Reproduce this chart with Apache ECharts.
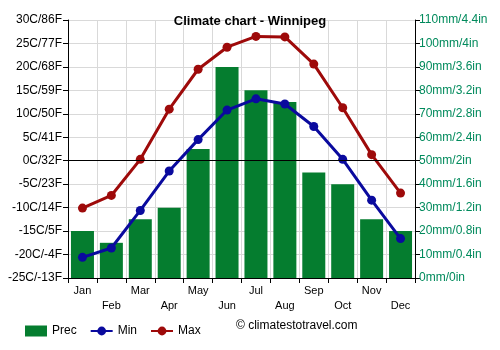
<!DOCTYPE html>
<html>
<head>
<meta charset="utf-8">
<script src="https://cdn.jsdelivr.net/npm/echarts@6/dist/echarts.min.js"></script>
<style>
html,body{margin:0;padding:0;background:#fff;}
#chart{width:500px;height:350px;}
</style>
</head>
<body>
<div id="chart"></div>
<script>
// data
var months = ['Jan','Feb','Mar','Apr','May','Jun','Jul','Aug','Sep','Oct','Nov','Dec'];
var prec = [20,15,25,30,55,90,80,75,45,40,25,20];
var tmin = [-20.6,-18.6,-10.6,-2.2,4.5,10.8,13.2,12.1,7.3,0.3,-8.4,-16.6];
var tmax = [-10.1,-7.4,0.3,11.0,19.5,24.2,26.5,26.4,20.6,11.3,1.3,-6.9];
var tempLabels = {'30':'30C/86F','25':'25C/77F','20':'20C/68F','15':'15C/59F','10':'10C/50F','5':'5C/41F','0':'0C/32F','-5':'-5C/23F','-10':'-10C/14F','-15':'-15C/5F','-20':'-20C/-4F','-25':'-25C/-13F'};
var precLabels = {'110':'110mm/4.4in','100':'100mm/4in','90':'90mm/3.6in','80':'80mm/3.2in','70':'70mm/2.8in','60':'60mm/2.4in','50':'50mm/2in','40':'40mm/1.6in','30':'30mm/1.2in','20':'20mm/0.8in','10':'10mm/0.4in','0':'0mm/0in'};

var chart = {
	init : function(){
		var myChart = echarts.init(document.getElementById('chart'));
		myChart.setOption(chart.options());
	},

	options : function(){
		var font = 'Arial, "Liberation Sans", sans-serif';
		return {
			animation : false,
			textStyle : { fontFamily : font },
			title : {
				text : 'Climate chart - Winnipeg',
				left : 'center',
				top : 10,
				textStyle : { fontSize : 13, fontWeight : 'bold', color : '#000', fontFamily : font }
			},
			legend : {
				left : 20,
				top : 320,
				itemWidth : 22,
				itemHeight : 11,
				itemGap : 13,
				textStyle : { fontSize : 12, color : '#000', fontFamily : font },
				data : [
					{ name : 'Prec', icon : 'rect' },
					{ name : 'Min', itemStyle : { borderWidth : 0 } },
					{ name : 'Max', itemStyle : { borderWidth : 0 } }
				]
			},
			graphic : [{
				type : 'text',
				left : 236,
				top : 320,
				style : { text : '© climatestotravel.com', fontSize : 12, fill : '#000', fontFamily : font }
			}],
			grid : { left : 68, right : 85, top : 20, bottom : 72 },
			xAxis : [{
				type : 'category',
				data : months,
				axisLine : { onZero : false, lineStyle : { color : '#000' } },
				axisTick : { show : true, alignWithLabel : false, lineStyle : { color : '#000' } },
				splitLine : { show : true, lineStyle : { color : '#d9d9d9' } },
				axisLabel : {
					color : '#000',
					fontSize : 11,
					interval : 0,
					margin : 5,
					lineHeight : 15,
					formatter : function(v, i){ return i % 2 ? '\n' + v : v; }
				}
			}],
			yAxis : [{
				type : 'value',
				min : -25,
				max : 30,
				interval : 5,
				position : 'left',
				axisLine : { show : true, lineStyle : { color : '#000' } },
				axisTick : { show : true, lineStyle : { color : '#000' } },
				splitLine : { show : true, lineStyle : { color : '#d9d9d9' } },
				axisLabel : {
					color : '#000',
					fontSize : 12,
					margin : 6,
					formatter : function(v){ return tempLabels[String(v)]; }
				}
			},{
				type : 'value',
				min : 0,
				max : 110,
				interval : 10,
				position : 'right',
				axisLine : { show : true, lineStyle : { color : '#000' } },
				axisTick : { show : true, lineStyle : { color : '#000' } },
				splitLine : { show : false },
				axisLabel : {
					color : '#008a5c',
					fontSize : 12,
					margin : 4,
					formatter : function(v){ return precLabels[String(v)]; }
				}
			}],
			series : [{
				name : 'Prec',
				type : 'bar',
				yAxisIndex : 1,
				data : prec,
				barWidth : 23,
				itemStyle : { color : '#057d2f' }
			},{
				name : 'Min',
				type : 'line',
				data : tmin,
				symbol : 'circle',
				symbolSize : 9,
				lineStyle : { width : 3, color : '#0a0a9e' },
				itemStyle : { color : '#0a0a9e' },
				markLine : {
					silent : true,
					symbol : ['none','none'],
					label : { show : false },
					lineStyle : { color : '#000', width : 1, type : 'solid' },
					data : [{ yAxis : 0 }]
				}
			},{
				name : 'Max',
				type : 'line',
				data : tmax,
				symbol : 'circle',
				symbolSize : 9,
				lineStyle : { width : 3, color : '#9e0a0a' },
				itemStyle : { color : '#9e0a0a' }
			}]
		};
	}
};

chart.init();
</script>
</body>
</html>
